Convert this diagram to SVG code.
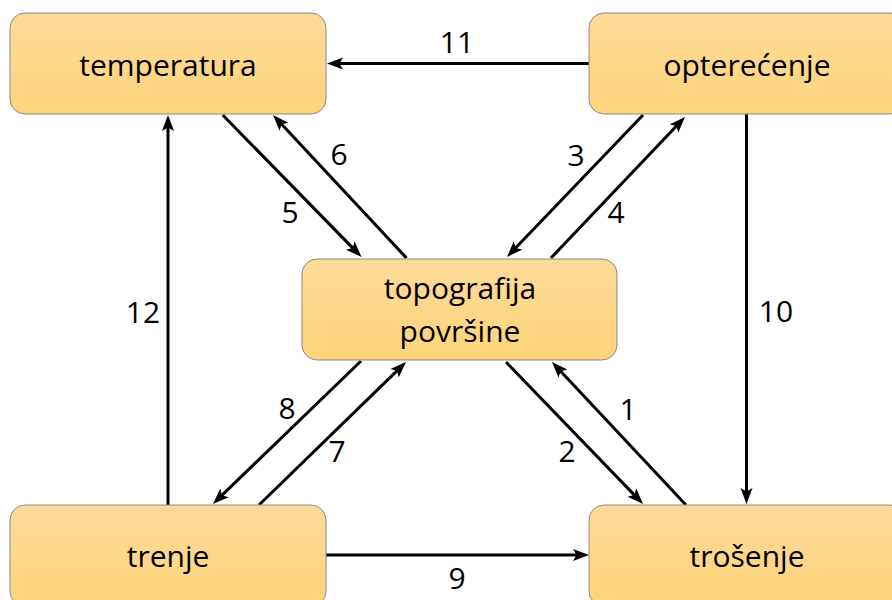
<svg xmlns="http://www.w3.org/2000/svg" width="892" height="600" viewBox="0 0 892 600">
<defs>
<linearGradient id="g" x1="0" y1="0" x2="0" y2="1">
<stop offset="0" stop-color="#fdda98"/>
<stop offset="1" stop-color="#fed47a"/>
</linearGradient>
<marker id="ah" markerUnits="userSpaceOnUse" markerWidth="20" markerHeight="14" refX="4" refY="6.5" orient="auto" viewBox="0 0 20 14">
<path d="M0,0.5 L16,6.5 L0,12.5 L3.5,6.5 z" fill="#000"/>
</marker>
<style>
.box{fill:url(#g);stroke:#8a8a8a;stroke-width:1}
.t{font-family:"Open Sans","Noto Sans",sans-serif;font-size:30px;fill:#000;text-anchor:middle}
.c{stroke:#000;stroke-width:3;fill:none;marker-end:url(#ah)}
</style>
</defs>
<rect width="892" height="600" fill="#fff"/>
<g id="connectors">
<line class="c" x1="589" y1="63.5" x2="339" y2="63.5"/>
<line class="c" x1="168" y1="505" x2="168" y2="127"/>
<line class="c" x1="746.5" y1="114" x2="746.5" y2="492"/>
<line class="c" x1="326" y1="555" x2="577" y2="555"/>
<line class="c" x1="222.7" y1="115" x2="353.1" y2="248.4"/>
<line class="c" x1="406.5" y1="258" x2="281.2" y2="123.8"/>
<line class="c" x1="643" y1="115" x2="515.3" y2="248.3"/>
<line class="c" x1="551" y1="258" x2="676.7" y2="125.7"/>
<line class="c" x1="361" y1="361" x2="221.6" y2="495.7"/>
<line class="c" x1="259" y1="505" x2="397.4" y2="370.4"/>
<line class="c" x1="506" y1="362" x2="634.7" y2="495.4"/>
<line class="c" x1="686" y1="505" x2="560.2" y2="370.8"/>
<g id="labels">
<text class="t" x="457" y="53">11</text>
<text class="t" x="143" y="323">12</text>
<text class="t" x="776" y="322">10</text>
<text class="t" x="457" y="589">9</text>
<text class="t" x="290" y="223">5</text>
<text class="t" x="339" y="165">6</text>
<text class="t" x="576" y="166">3</text>
<text class="t" x="616" y="223">4</text>
<text class="t" x="287" y="419">8</text>
<text class="t" x="337" y="462">7</text>
<text class="t" x="567" y="462">2</text>
<text class="t" x="628" y="420">1</text>
</g>
</g>
<g id="temperatura">
<rect class="box" x="10" y="13" width="316" height="101" rx="15"/>
<text class="t" x="168" y="76">temperatura</text>
</g>
<g id="optere">
<rect class="box" x="589" y="13" width="316" height="101" rx="15"/>
<text class="t" x="747" y="76">opterećenje</text>
</g>
<g id="topografija">
<rect class="box" x="302" y="259" width="315" height="101" rx="15"/>
<text class="t" x="460" y="299">topografija</text>
<text class="t" x="460" y="342">površine</text>
</g>
<g id="trenje">
<rect class="box" x="10" y="505" width="316" height="101" rx="15"/>
<text class="t" x="168" y="567">trenje</text>
</g>
<g id="trosenje">
<rect class="box" x="589" y="505" width="316" height="101" rx="15"/>
<text class="t" x="747" y="567">trošenje</text>
</g>
</svg>
